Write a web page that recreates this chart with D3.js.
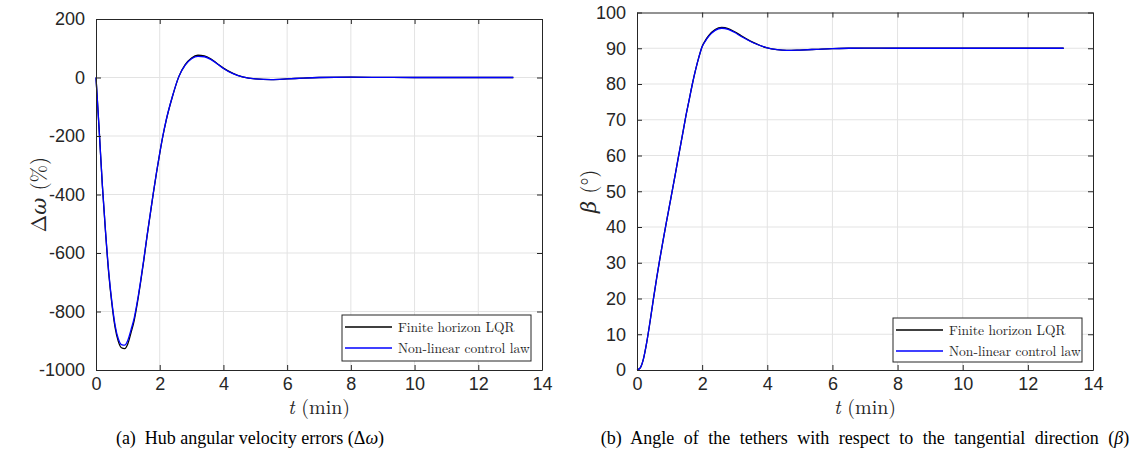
<!DOCTYPE html>
<html>
<head>
<meta charset="utf-8">
<script src="https://cdn.jsdelivr.net/npm/d3@7"></script>
<style>
  body { margin: 0; background: #fff; }
  svg { display: block; }
  .latex { font-family: "Latin Modern Roman", "DejaVu Serif", "Liberation Serif", serif; fill: #262626; }
  .caption { font-family: "Liberation Serif", "Times New Roman", serif; font-size: 18px; fill: #000; }
</style>
</head>
<body>
<svg id="chart" width="1143" height="459"></svg>
<script>
// time (min)
const T = [0, 0.1, 0.2, 0.3, 0.4, 0.5, 0.6, 0.7, 0.8, 0.9, 1.0, 1.1, 1.2, 1.3, 1.4, 1.5, 1.6, 1.7, 1.8, 1.9,
  2.0, 2.1, 2.2, 2.4, 2.6, 2.8, 3.0, 3.2, 3.4, 3.6, 3.8, 4.0, 4.3, 4.6, 5.0, 5.5, 6.0, 6.5, 7.0, 8.0,
  9.0, 10.0, 11.0, 12.0, 13.1];

// hub angular velocity error (%)
const DW_LQR = [0, -180, -370, -530, -670, -775, -855, -902, -924, -927, -910, -872, -830, -770, -700, -625, -545, -470, -395, -325,
  -260, -200, -148, -65, 3, 44, 67, 76, 74, 64, 48, 32, 14, 2, -5, -7, -5, -2, 0, 1,
  0.5, 0, 0, 0, 0];
const DW_NL = [0, -180, -368, -527, -665, -769, -847, -893, -913, -915, -898, -862, -822, -764, -696, -622, -543, -468, -394, -324,
  -259, -199, -147, -64, 3, 42, 64, 72, 71, 62, 47, 31, 13, 2, -5, -7, -5, -2, 0, 1,
  0.5, 0, 0, 0, 0];

// tether angle beta (deg)
const BETA_LQR = [0, 0.6, 3.2, 7.8, 13.5, 19.6, 25.5, 31, 36.2, 41.2, 46.1, 51, 56, 61, 66, 71, 75.5, 80, 84, 87.5,
  90.5, 92.2, 93.5, 95.2, 95.8, 95.5, 94.6, 93.5, 92.4, 91.5, 90.7, 90.1, 89.6, 89.4, 89.5, 89.7, 89.9, 90.0, 90.05, 90,
  90, 90, 90, 90, 90];
const BETA_NL = [0, 0.6, 3.2, 7.8, 13.5, 19.6, 25.5, 31, 36.2, 41.2, 46.1, 51, 56, 61, 66, 71, 75.5, 80, 84, 87.5,
  90.4, 92.0, 93.3, 95.0, 95.6, 95.3, 94.4, 93.3, 92.3, 91.4, 90.7, 90.1, 89.6, 89.4, 89.5, 89.7, 89.9, 90.0, 90.05, 90,
  90, 90, 90, 90, 90];

const X_TICKS = [0, 2, 4, 6, 8, 10, 12, 14];
const DW_TICKS = [200, 0, -200, -400, -600, -800, -1000];
const BETA_TICKS = [0, 10, 20, 30, 40, 50, 60, 70, 80, 90, 100];
const LEGEND = ["Finite horizon LQR", "Non-linear control law"];
const COLORS = ["#000000", "#0000ff"];

const svg = d3.select("#chart");

function drawPanel(box, yDomain, yTicks, series, yLabel, yLabelOff, caption, legendBox, captionX, wordSp) {
  const x = d3.scaleLinear().domain([0, 14]).range([box.x0, box.x1]);
  const y = d3.scaleLinear().domain(yDomain).range([box.y1, box.y0]);
  const g = svg.append("g");

  // grid
  g.selectAll(".gx").data(X_TICKS.slice(1, -1)).enter().append("line")
    .attr("x1", d => x(d)).attr("x2", d => x(d))
    .attr("y1", box.y0).attr("y2", box.y1)
    .attr("stroke", "#e3e3e3").attr("stroke-width", 1);
  g.selectAll(".gy").data(yTicks.filter(d => d !== yDomain[0] && d !== yDomain[1])).enter().append("line")
    .attr("x1", box.x0).attr("x2", box.x1)
    .attr("y1", d => y(d)).attr("y2", d => y(d))
    .attr("stroke", "#e3e3e3").attr("stroke-width", 1);

  // curves
  const line = d3.line().x((d, i) => x(T[i])).y(d => y(d)).curve(d3.curveMonotoneX);
  series.forEach((s, k) => {
    g.append("path").datum(s)
      .attr("fill", "none").attr("stroke", COLORS[k])
      .attr("stroke-width", 1.3)
      .attr("d", line);
  });

  // axes with inward ticks on all sides (box on)
  const fmt = d => String(d);
  const axB = d3.axisBottom(x).tickValues(X_TICKS).tickSizeInner(-5).tickSizeOuter(0).tickPadding(7).tickFormat(fmt);
  const axT = d3.axisTop(x).tickValues(X_TICKS).tickSizeInner(-5).tickSizeOuter(0).tickFormat("");
  const axL = d3.axisLeft(y).tickValues(yTicks).tickSizeInner(-5).tickSizeOuter(0).tickPadding(11).tickFormat(fmt);
  const axR = d3.axisRight(y).tickValues(yTicks).tickSizeInner(-5).tickSizeOuter(0).tickFormat("");

  [[axB, `translate(0,${box.y1})`], [axT, `translate(0,${box.y0})`],
   [axL, `translate(${box.x0},0)`], [axR, `translate(${box.x1},0)`]].forEach(([ax, tr]) => {
    const a = g.append("g").attr("transform", tr).call(ax);
    a.select(".domain").attr("stroke", "#262626").attr("stroke-width", 1);
    a.selectAll(".tick line").attr("stroke", "#262626");
    a.selectAll(".tick text")
      .style("font-family", "'Liberation Sans', Arial, sans-serif")
      .style("font-size", "18px").style("fill", "#262626");
  });

  // y label
  const cy = (box.y0 + box.y1) / 2;
  const yl = g.append("text").attr("class", "latex")
    .attr("transform", `translate(${box.x0 - yLabelOff},${cy}) rotate(-90)`)
    .attr("text-anchor", "middle").attr("font-size", 21);
  yLabel(yl);

  // x label
  const xl = g.append("text").attr("class", "latex")
    .attr("x", (box.x0 + box.x1) / 2).attr("y", box.y1 + 44)
    .attr("text-anchor", "middle").attr("font-size", 20);
  xl.append("tspan").attr("font-style", "italic").text("t");
  xl.append("tspan").text(" (min)");

  // legend
  const lg = g.append("g");
  lg.append("rect").attr("x", legendBox.x).attr("y", legendBox.y)
    .attr("width", legendBox.w).attr("height", legendBox.h)
    .attr("fill", "#fff").attr("stroke", "#262626").attr("stroke-width", 1);
  LEGEND.forEach((name, i) => {
    const ly = legendBox.y + 12 + i * 21;
    lg.append("line").attr("x1", legendBox.x + 3).attr("x2", legendBox.x + 50)
      .attr("y1", ly).attr("y2", ly).attr("stroke", COLORS[i]).attr("stroke-width", 1.3);
    lg.append("text").attr("class", "latex").attr("x", legendBox.x + 56).attr("y", ly + 4.5)
      .attr("font-size", 13.5).text(name);
  });

  // caption
  svg.append("text").attr("class", "caption").attr("x", captionX).attr("y", 444)
    .attr("text-anchor", "middle")
    .style("word-spacing", wordSp + "px")
    .call(caption);
}

drawPanel({ x0: 96, x1: 542, y0: 19, y1: 370 }, [-1000, 200], DW_TICKS, [DW_LQR, DW_NL],
  t => { t.append("tspan").text("Δ"); t.append("tspan").attr("font-style", "italic").text("ω"); t.append("tspan").text(" (%)"); },
  50,
  t => { t.append("tspan").text("(a)\u00a0\u00a0Hub angular velocity errors (Δ"); t.append("tspan").attr("font-style", "italic").text("ω"); t.append("tspan").text(")"); },
  { x: 342, y: 315, w: 189, h: 46 }, 250, 0);

drawPanel({ x0: 637, x1: 1093, y0: 12.5, y1: 370 }, [0, 100], BETA_TICKS, [BETA_LQR, BETA_NL],
  t => { t.append("tspan").attr("font-style", "italic").text("β"); t.append("tspan").text(" (°)"); },
  41,
  t => { t.append("tspan").text("(b) Angle of the tethers with respect to the tangential direction ("); t.append("tspan").attr("font-style", "italic").text("β"); t.append("tspan").text(")"); },
  { x: 893, y: 318, w: 189, h: 44 }, 865, 5);
</script>
</body>
</html>
